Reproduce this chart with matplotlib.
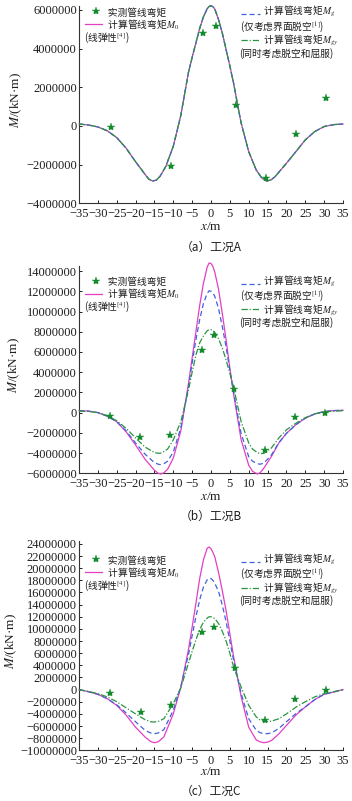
import matplotlib
matplotlib.use("Agg")
import matplotlib.pyplot as plt
from matplotlib.lines import Line2D

plt.rcParams['mathtext.fontset'] = 'stix'
SERIF = ['Liberation Serif', 'DejaVu Serif']
CJK = ['Noto Sans CJK SC', 'DejaVu Sans']

# ---------------- data (moments in units of 1e6 kN·m) ----------------
UNIT = 1e6

# Case A (all three computed curves coincide)
xA = [-35, -32.5, -30, -27.5, -25, -22.5, -20, -17.5, -16.5, -15.5, -14.5, -13.5, -12, -10, -8, -7, -6, -5, -4, -3, -2, -1, -0.5, 0,
      0.5, 1, 2, 3, 4, 5, 6, 7, 8, 10, 12, 13.5, 14.8, 16, 17, 20, 22.5, 25, 27.5, 30, 32.5, 35]
M0_A = [0.10, 0.05, -0.05, -0.25, -0.60, -1.15, -1.85, -2.50, -2.75, -2.85, -2.80, -2.60, -2.10, -1.05, 0.55, 1.65, 2.75, 3.55, 4.30, 5.05, 5.65, 6.07, 6.18, 6.22,
        6.17, 6.05, 5.50, 4.80, 3.95, 3.10, 2.20, 1.15, 0.15, -1.33, -2.28, -2.70, -2.85, -2.78, -2.62, -1.93, -1.33, -0.72, -0.29, -0.03, 0.07, 0.10]
Mg_A = list(M0_A)
Mgy_A = list(M0_A)
xs_A = [-26.4, -10.7, -2.2, 1.4, 6.6, 14.5, 22.5, 30.5]
ms_A = [-0.03, -2.09, 4.81, 5.19, 1.09, -2.71, -0.41, 1.43]

# Case B
xB = [-35, -32.5, -30, -27.5, -25, -22.5, -20, -17.5, -15, -14, -13.3, -12.5, -11.5, -10, -8, -6, -5, -4, -3, -2, -1, -0.5, 0,
      0.5, 1, 2, 3, 4, 5, 6, 8, 10, 11, 12.3, 13, 14, 16, 18, 20, 22.5, 25, 27.5, 30, 32.5, 35]
M0_B = [0.20, 0.15, 0.00, -0.35, -0.90, -1.90, -3.20, -4.60, -5.70, -6.00, -6.07, -5.95, -5.60, -4.50, -1.80, 2.80, 5.40, 8.00, 10.60, 12.80, 14.40, 14.80, 14.75,
        14.45, 13.90, 12.20, 9.80, 7.20, 4.40, 1.80, -2.70, -5.20, -5.80, -6.07, -5.95, -5.50, -4.35, -3.00, -2.05, -1.20, -0.55, -0.13, 0.10, 0.20, 0.23]
Mg_B = [0.20, 0.15, 0.00, -0.35, -0.90, -1.80, -3.00, -4.10, -4.95, -5.10, -5.15, -5.05, -4.80, -3.90, -1.50, 2.50, 4.90, 7.20, 9.20, 10.80, 11.80, 12.05, 12.00,
        11.85, 11.50, 10.30, 8.50, 6.50, 4.20, 2.00, -2.10, -4.35, -4.80, -5.05, -5.10, -5.00, -4.20, -2.97, -2.05, -1.20, -0.55, -0.13, 0.10, 0.20, 0.23]
Mgy_B = [0.15, 0.12, 0.00, -0.30, -0.80, -1.55, -2.50, -3.40, -3.95, -4.02, -4.00, -3.85, -3.60, -2.70, -0.90, 2.20, 4.00, 5.70, 6.90, 7.60, 8.10, 8.20, 8.20,
         8.10, 7.95, 7.30, 6.40, 5.20, 3.90, 2.50, -0.90, -3.00, -3.60, -3.96, -4.05, -4.03, -3.50, -2.50, -1.70, -1.05, -0.50, -0.12, 0.08, 0.15, 0.18]
xs_B = [-26.8, -18.9, -10.8, -2.5, 0.7, 6.2, 14.2, 22.3, 30.2]
ms_B = [-0.30, -2.44, -2.24, 6.17, 7.69, 2.31, -3.70, -0.46, -0.03]

# Case C
xC = [-35, -32.5, -30, -27.5, -25, -22.5, -20, -17.5, -16, -15, -14, -12.5, -10, -8, -6, -5, -4, -3, -2, -1, -0.5, 0,
      0.5, 1, 2, 3, 4, 5, 6, 8, 10, 12, 13, 14, 15, 16, 18, 20, 22.5, 25, 27.5, 30, 32.5, 35]
M0_C = [0.00, -0.35, -0.77, -1.50, -2.60, -4.20, -6.20, -7.80, -8.55, -8.75, -8.60, -7.80, -4.00, 0.40, 6.50, 10.30, 14.20, 18.30, 21.40, 23.30, 23.50, 23.20,
        22.60, 21.90, 19.30, 16.30, 13.00, 9.20, 5.40, -1.20, -6.20, -8.30, -8.60, -8.75, -8.65, -8.40, -7.30, -5.90, -4.20, -2.85, -1.65, -0.77, -0.40, 0.00]
Mg_C = [0.00, -0.35, -0.77, -1.50, -2.50, -3.85, -5.30, -6.70, -7.15, -7.26, -7.15, -6.60, -3.40, 0.50, 5.70, 8.90, 12.00, 14.80, 16.90, 18.10, 18.35, 18.30,
        18.00, 17.50, 16.20, 13.90, 11.20, 8.00, 4.80, -0.66, -4.80, -6.70, -7.10, -7.26, -7.25, -7.15, -6.40, -5.30, -3.95, -2.85, -1.65, -0.77, -0.40, 0.00]
Mgy_C = [0.00, -0.30, -0.66, -1.20, -2.00, -3.00, -4.00, -4.95, -5.30, -5.34, -5.25, -4.80, -2.30, 0.30, 4.30, 6.30, 8.20, 9.90, 11.10, 11.80, 12.00, 12.00,
         11.90, 11.70, 10.90, 9.60, 8.00, 6.00, 3.70, 0.40, -2.60, -4.50, -5.00, -5.20, -5.25, -5.20, -4.80, -4.00, -2.90, -2.00, -1.20, -0.66, -0.35, 0.00]
xs_C = [-26.8, -18.5, -10.6, -2.5, 0.8, 6.4, 14.2, 22.3, 30.6]
ms_C = [-0.50, -3.74, -2.59, 9.52, 10.29, 3.58, -5.06, -1.49, 0.00]

xticks = list(range(-35, 36, 5))
yticks_A = list(range(-4000000, 6000001, 2000000))
yticks_B = list(range(-6000000, 14000001, 2000000))
yticks_C = list(range(-10000000, 24000001, 2000000))
ylims = [(-4.0e6, 6.2e6), (-6.0e6, 14.5e6), (-10.0e6, 24.5e6)]
captions = ['（a）工况A', '（b）工况B', '（c）工况C']

lbl_meas = '实测管线弯矩'
lbl_M0 = '计算管线弯矩$M_0$'
lbl_M0b = '(线弹性$^{[4]}$)'
lbl_Mg = '计算管线弯矩$M_g$'
lbl_Mgb = '(仅考虑界面脱空$^{[1]}$)'
lbl_Mgy = '计算管线弯矩$M_{gy}$'
lbl_Mgyb = '(同时考虑脱空和屈服)'

# ---------------- styles ----------------
W, H = 352, 801
C_PINK = '#e23fc4'
C_BLUE = '#3f62dc'
C_GREEN = '#2a9440'
C_STAR = '#138a2c'
C_TXT = '#1e1e1e'

fig = plt.figure(figsize=(W / 100, H / 100), dpi=100)


def fx(px):
    return px / W


def fy(py):
    return 1 - py / H


# axes boxes in pixels: (left, top, right, bottom)
boxes = [(79, 6.1, 343, 203.3), (79, 266.0, 343, 473.3), (79, 540.9, 343, 750.3)]
ylabel_x = [16, 14, 11]
# pixel y of the last legend row (left block, right block); rows are ROW px apart
leg_last = [(37, 53), (306.5, 322.5), (585, 600.5)]
ROW = 13.0
xlabel_y = [227, 497, 772]
caption_y = [247, 516.5, 791.5]

panels = [
    (xA, M0_A, Mg_A, Mgy_A, xs_A, ms_A, yticks_A),
    (xB, M0_B, Mg_B, Mgy_B, xs_B, ms_B, yticks_B),
    (xC, M0_C, Mg_C, Mgy_C, xs_C, ms_C, yticks_C),
]

FS_TICK = 9.0
FS_LEG = 7.0
LSP = 0.95
DASH = (0, (4, 2.5))
DASHDOT = (0, (5, 1.5, 1, 1.5))
IND = '\u3000\u3000  '   # indent that leaves room for the legend handles

for i, (x, m0, mg, mgy, xs, ms, yt) in enumerate(panels):
    l, t, r, b = boxes[i]
    ax = fig.add_axes([fx(l), fy(b), (r - l) / W, (b - t) / H])
    ax.plot(x, [v * UNIT for v in m0], color=C_PINK, lw=0.9, clip_on=False, zorder=3)
    ax.plot(x, [v * UNIT for v in mg], color=C_BLUE, lw=0.9, ls=DASH, clip_on=False, zorder=4)
    ax.plot(x, [v * UNIT for v in mgy], color=C_GREEN, lw=0.9, ls=DASHDOT, clip_on=False, zorder=5)
    ax.plot(xs, [v * UNIT for v in ms], ls='none', marker='*', ms=6, color=C_STAR,
            markeredgewidth=0.3, clip_on=False, zorder=6)

    ax.set_xlim(-35, 35)
    ax.set_ylim(*ylims[i])
    ax.set_xticks(xticks)
    ax.set_xticklabels([str(v).replace('-', '\u2212') for v in xticks], family=SERIF, fontsize=FS_TICK)
    ax.set_yticks(yt)
    ax.set_yticklabels([str(v).replace('-', '\u2212') for v in yt], family=SERIF, fontsize=FS_TICK)
    ax.tick_params(direction='in', length=2.5, width=0.7, pad=1.5, colors=C_TXT)
    ax.tick_params(axis='x', pad=3.5)
    for s in ['top', 'right']:
        ax.spines[s].set_visible(False)
    for s in ['left', 'bottom']:
        ax.spines[s].set_linewidth(0.8)
        ax.spines[s].set_color('#333333')
    ax.patch.set_alpha(0)

    fig.text(fx(ylabel_x[i]), fy((t + b) / 2 - 5), '$M$/(kN·m)', rotation=90, ha='center', va='center',
             family=SERIF, fontsize=9.5, color=C_TXT)
    fig.text(fx(211), fy(xlabel_y[i]), '$x$/m', ha='center', va='center', family=SERIF, fontsize=9.5,
             color=C_TXT)
    fig.text(fx(211), fy(caption_y[i]), captions[i], ha='center', va='center', family=CJK, fontsize=8.5,
             color=C_TXT)

    yl, yr = leg_last[i]
    # left legend: handles + one block of text (baseline of the last line anchored)
    fig.add_artist(Line2D([fx(96)], [fy(yl - 2 * ROW)], marker='*', ms=6, color=C_STAR, ls='none',
                          markeredgewidth=0.3, transform=fig.transFigure))
    fig.add_artist(Line2D([fx(85), fx(102)], [fy(yl - ROW), fy(yl - ROW)], color=C_PINK, lw=0.9,
                          transform=fig.transFigure))
    fig.text(fx(84), fy(yl + 3.6), IND + lbl_meas + '\n' + IND + lbl_M0 + '\n' + lbl_M0b,
             ha='left', va='baseline', multialignment='left', linespacing=LSP,
             family=CJK, fontsize=FS_LEG, color=C_TXT)

    # right legend
    fig.add_artist(Line2D([fx(241), fx(260)], [fy(yr - 3 * ROW), fy(yr - 3 * ROW)], color=C_BLUE, lw=0.9,
                          ls=DASH, transform=fig.transFigure))
    fig.add_artist(Line2D([fx(241), fx(260)], [fy(yr - ROW), fy(yr - ROW)], color=C_GREEN, lw=0.9,
                          ls=DASHDOT, transform=fig.transFigure))
    fig.text(fx(239.5), fy(yr + 3.6), IND + lbl_Mg + '\n' + lbl_Mgb + '\n' + IND + lbl_Mgy + '\n' + lbl_Mgyb,
             ha='left', va='baseline', multialignment='left', linespacing=LSP,
             family=CJK, fontsize=FS_LEG, color=C_TXT)

fig.savefig('out.png', dpi=100, facecolor='white')
